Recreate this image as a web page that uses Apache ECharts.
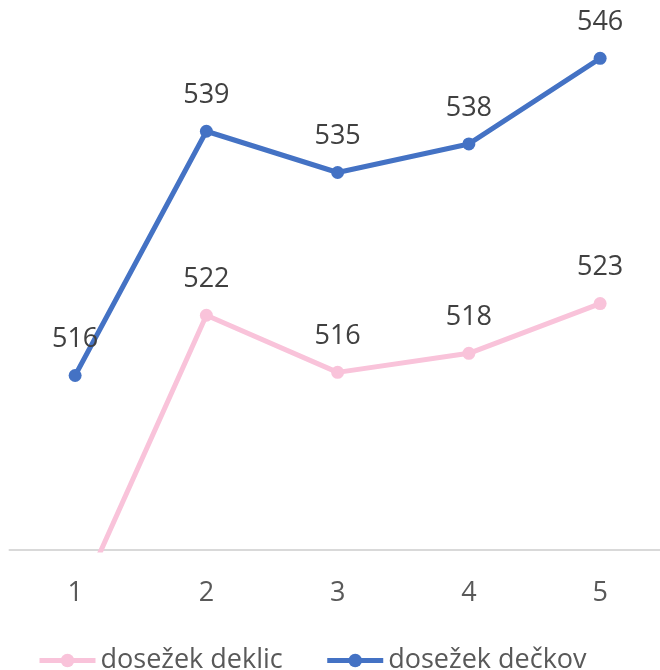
<!DOCTYPE html>
<html>
<head>
<meta charset="utf-8">
<script src="https://cdn.jsdelivr.net/npm/echarts@6/dist/echarts.min.js"></script>
<style>
    html, body { margin: 0; padding: 0; background: #fff; overflow: hidden; }
    /* graf je malo širši od okna, zadnja kategorija seže čez desni rob */
    #chart { width: 666px; height: 670px; }
</style>
</head>
<body>
<div id="chart"></div>
<script>
// kategorije in vrednosti (odčitano s slike)
const categories = ['1', '2', '3', '4', '5'];
const girls = [494.0, 521.7, 516.3, 518.1, 522.8];
const boys = [516.0, 539.1, 535.2, 537.9, 546.0];
const seriesNames = ['dosežek deklic', 'dosežek dečkov'];

const fontFamily = '"Open Sans", sans-serif';

const labelStyle = {
    show: true,
    position: 'top',
    distance: 16,
    fontFamily: fontFamily,
    fontSize: 27,
    color: '#404040',
    formatter: p => Math.round(p.value)
};

// prva točka deklic je pod osjo, zato brez oznake
const girlsData = girls.map((v, i) => i === 0 ? { value: v, label: { show: false } } : v);

const chart = echarts.init(document.getElementById('chart'));
chart.setOption({
    backgroundColor: '#fff',
    animation: false,
    grid: { left: 9.5, top: 16, width: 656.25, height: 534 },
    xAxis: {
        type: 'category',
        data: categories,
        boundaryGap: true,
        axisLine: { lineStyle: { color: '#d9d9d9', width: 2 } },
        axisTick: { show: false },
        axisLabel: { color: '#595959', fontFamily: fontFamily, fontSize: 27, margin: 30 }
    },
    yAxis: {
        type: 'value',
        min: 499.5,
        max: 550,
        show: false,
        splitLine: { show: false }
    },
    legend: {
        data: seriesNames,
        left: 32,
        top: 642,
        itemWidth: 56,
        itemHeight: 17,
        itemGap: 42,
        lineStyle: { width: 5 },
        textStyle: { color: '#595959', fontFamily: fontFamily, fontSize: 27 }
    },
    series: [
        {
            name: seriesNames[0],
            type: 'line',
            data: girlsData,
            clip: true,
            symbol: 'circle',
            symbolSize: 13,
            lineStyle: { color: '#f9c3da', width: 5 },
            itemStyle: { color: '#f9c3da' },
            label: labelStyle
        },
        {
            name: seriesNames[1],
            type: 'line',
            data: boys,
            clip: true,
            symbol: 'circle',
            symbolSize: 13,
            lineStyle: { color: '#4472c4', width: 5 },
            itemStyle: { color: '#4472c4' },
            label: labelStyle
        }
    ]
});
</script>
</body>
</html>
